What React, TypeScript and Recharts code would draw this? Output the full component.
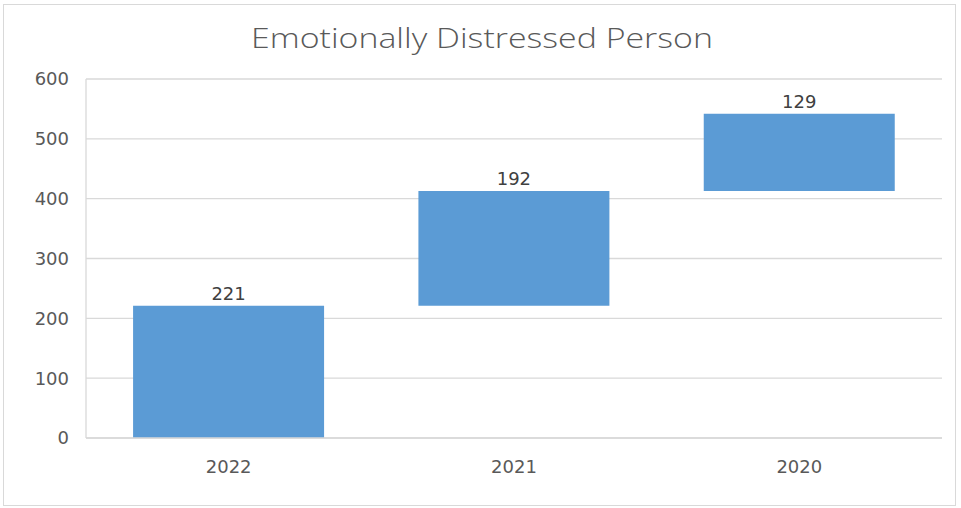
import { BarChart, Bar, XAxis, YAxis, CartesianGrid, LabelList } from 'recharts';

const years = ['2022', '2021', '2020'];
const persons = [221, 192, 129];
const yTicks = [0, 100, 200, 300, 400, 500, 600];

// waterfall: each bar starts where the previous one ended
const data = years.map((year, i) => ({
  year,
  base: persons.slice(0, i).reduce((s, v) => s + v, 0),
  value: persons[i],
}));

export default function App() {
  return (
    <div style={{ position: 'absolute', left: 0, top: 0, width: 961, height: 508, background: '#fff' }}>
      <div
        style={{
          position: 'absolute',
          left: 3,
          top: 4,
          width: 953,
          height: 502,
          border: '1px solid #d9d9d9',
          boxSizing: 'border-box',
        }}
      />
      <div
        style={{
          position: 'absolute',
          left: 0,
          top: 17,
          width: 964,
          textAlign: 'center',
          fontFamily: '"Open Sans", sans-serif',
          fontWeight: 300,
          fontSize: 28,
          color: '#595959',
          lineHeight: '40px',
          transform: 'scaleX(1.21)',
        }}
      >
        Emotionally Distressed Person
      </div>
      <div style={{ position: 'absolute', left: 0, top: 0 }}>
        <BarChart
          width={961}
          height={508}
          data={data}
          margin={{ top: 79, right: 19, bottom: 30, left: 0 }}
          barCategoryGap="16.5%"
        >
          <CartesianGrid vertical={false} stroke="#d9d9d9" strokeWidth={1.3} />
          <XAxis
            dataKey="year"
            height={40}
            tickSize={0}
            tickMargin={22}
            axisLine={{ stroke: '#d9d9d9', strokeWidth: 1.3 }}
            tick={{ fill: '#595959', fontSize: 18, fontFamily: '"DejaVu Sans", sans-serif' }}
          />
          <YAxis
            width={86}
            domain={[0, 600]}
            ticks={yTicks}
            tickSize={0}
            tickMargin={17}
            axisLine={{ stroke: '#d9d9d9', strokeWidth: 1.3 }}
            tick={{ fill: '#595959', fontSize: 18, fontFamily: '"DejaVu Sans", sans-serif' }}
          />
          <Bar dataKey="base" stackId="w" fill="transparent" isAnimationActive={false} />
          <Bar dataKey="value" stackId="w" fill="#5b9bd5" isAnimationActive={false}>
            <LabelList
              dataKey="value"
              position="top"
              offset={6}
              fill="#404040"
              fontSize={18}
              fontFamily='"DejaVu Sans", sans-serif'
            />
          </Bar>
        </BarChart>
      </div>
    </div>
  );
}
